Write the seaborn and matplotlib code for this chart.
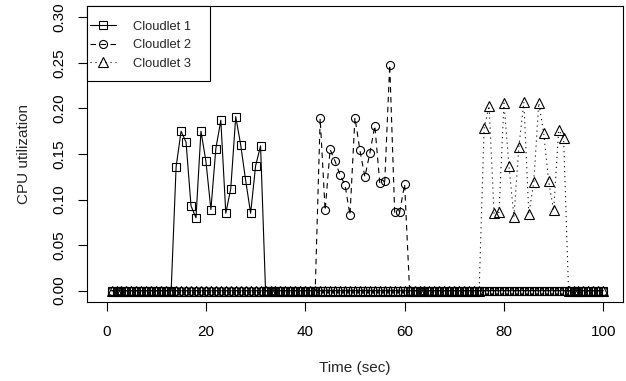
import numpy as np
import pandas as pd
import matplotlib
matplotlib.use("Agg")
import matplotlib.pyplot as plt
from matplotlib.patches import Rectangle
import seaborn as sns

# ---- data ----
time = list(range(1, 101))

c1_start = 14
c1_values = [0.136, 0.175, 0.163, 0.093, 0.080, 0.175, 0.142, 0.089, 0.156,
             0.187, 0.085, 0.112, 0.191, 0.160, 0.121, 0.085, 0.137, 0.159]

c2_start = 43
c2_values = [0.189, 0.088, 0.155, 0.142, 0.127, 0.116, 0.083, 0.190, 0.154,
             0.125, 0.151, 0.181, 0.118, 0.120, 0.248, 0.086, 0.086, 0.117]

c3_start = 76
c3_values = [0.178, 0.203, 0.085, 0.086, 0.206, 0.137, 0.081, 0.158, 0.207,
             0.084, 0.119, 0.206, 0.173, 0.120, 0.088, 0.176, 0.168]

labels = ["Cloudlet 1", "Cloudlet 2", "Cloudlet 3"]
x_ticks = [0, 20, 40, 60, 80, 100]
y_ticks = [0.00, 0.05, 0.10, 0.15, 0.20, 0.25, 0.30]


def full_series(start, values):
    s = [0.0] * len(time)
    for i, v in enumerate(values):
        s[start - 1 + i] = v
    return s


series = [full_series(c1_start, c1_values),
          full_series(c2_start, c2_values),
          full_series(c3_start, c3_values)]

sns.set_style("ticks")
plt.rcParams["font.family"] = ["Liberation Sans", "DejaVu Sans"]

W, H = 626, 381
ax_l, ax_r, ax_t, ax_b = 86.7, 623.2, 6.4, 301.6
fig = plt.figure(figsize=(W / 100, H / 100), dpi=100)
ax = fig.add_axes([ax_l / W, 1 - ax_b / H, (ax_r - ax_l) / W, (ax_b - ax_t) / H])

markers = ["s", "o", "^"]
styles = ["-", (0, (5, 4)), (0, (1, 3.5))]
msizes = [5.5, 5.8, 6.5]

for s, lab, m, ls, ms in zip(series, labels, markers, styles, msizes):
    df = pd.DataFrame({"Time": time, "CPU": s})
    sns.lineplot(data=df, x="Time", y="CPU", ax=ax, color="black",
                 linestyle=ls, linewidth=0.8, marker=m, markersize=ms,
                 markerfacecolor="none", markeredgecolor="black",
                 markeredgewidth=0.8, label=lab)

ax.set_xlim(-4, 104)
ax.set_ylim(-0.012, 0.312)
ax.set_xticks(x_ticks)
ax.set_yticks(y_ticks)
ax.set_yticklabels([f"{v:.2f}" for v in y_ticks])
ax.tick_params(axis="both", direction="out", length=6.7, width=0.8,
               labelsize=11, color="black", labelcolor="black")
ax.tick_params(axis="x", pad=10)
ax.tick_params(axis="y", pad=7.8)
for lbl in ax.get_yticklabels():
    lbl.set_rotation(90)
    lbl.set_va("center")
for sp in ax.spines.values():
    sp.set_visible(True)
    sp.set_color("black")
    sp.set_linewidth(0.8)

ax.set_xlabel("Time (sec)", fontsize=11, labelpad=16)
ax.set_ylabel("CPU utilization", fontsize=11, labelpad=15.5)

# legend frame drawn as a rectangle to match R's legend box
aw, ah = ax_r - ax_l, ax_b - ax_t
fx0, fx1 = (87 - ax_l) / aw, (210 - ax_l) / aw
fy0 = 1 - (81 - ax_t) / ah
ax.add_patch(Rectangle((fx0, fy0), fx1 - fx0, 1 - fy0, transform=ax.transAxes,
                       facecolor="white", edgecolor="black", linewidth=0.8,
                       zorder=4, clip_on=False))
leg = ax.legend(loc="upper left",
                bbox_to_anchor=((90 - ax_l) / aw, 1 - (20.5 - ax_t) / ah),
                borderaxespad=0, borderpad=0, frameon=False, fontsize=9.3,
                handlelength=2.0, handletextpad=1.35, labelspacing=0.5)
leg.set_zorder(5)

fig.savefig("out.png", dpi=100)
